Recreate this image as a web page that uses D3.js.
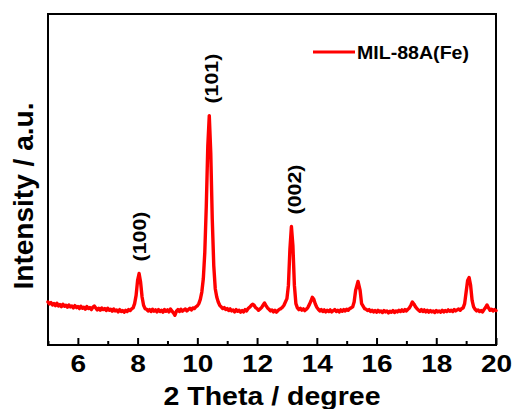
<!DOCTYPE html>
<html>
<head>
<meta charset="utf-8">
<script src="https://cdn.jsdelivr.net/npm/d3@7"></script>
<style>
  html, body { margin: 0; padding: 0; background: #fff; }
  svg { display: block; }
  text { font-family: "Liberation Sans", Arial, sans-serif; font-weight: bold; fill: #000; }
</style>
</head>
<body>
<svg id="chart" width="512" height="409"></svg>
<script>
// ---- data, one line per region, same order in both arrays ----
const twoTheta = [
  5.0,5.05,5.1,5.15,5.2,5.25,5.3,5.35,5.4,5.45,5.5,5.55,5.6,5.65,5.7,5.75,5.8,5.85,5.9,5.95,
  6.0,6.05,6.1,6.15,6.2,6.25,6.3,6.35,6.4,6.45,6.5,6.55,6.6,6.65,6.7,6.75,6.8,6.85,6.9,6.95,
  7.0,7.05,7.1,7.15,7.2,7.25,7.3,7.35,7.4,7.45,7.5,7.55,7.6,7.65,7.7,7.75,7.8,
  7.85,7.9,7.95,8.0,8.05,8.1,8.15,8.2,8.25,
  8.3,8.35,8.4,8.45,8.5,8.55,8.6,8.65,8.7,8.75,8.8,8.85,8.9,8.95,9.0,9.05,9.1,9.15,9.2,9.25,
  9.3,9.35,9.4,9.45,9.5,9.55,9.6,9.65,9.7,9.75,9.8,9.85,9.9,9.95,
  10.0,10.05,10.1,10.15,10.2,10.25,10.3,10.35,10.4,10.45,10.5,10.55,10.6,10.65,10.7,10.75,
  10.8,10.85,10.9,10.95,11.0,11.05,11.1,11.15,11.2,11.25,11.3,11.35,11.4,11.45,11.5,11.55,11.6,11.65,11.7,11.75,
  11.8,11.85,11.9,11.95,12.0,12.05,12.1,12.15,12.2,12.25,12.3,12.35,12.4,12.45,12.5,12.55,12.6,12.65,12.7,12.75,12.8,12.85,
  12.9,13.0,13.05,13.1,13.15,13.2,13.25,13.3,13.35,
  13.4,13.45,13.5,13.55,13.6,13.65,13.7,13.75,13.8,13.85,13.9,13.95,14.0,14.05,14.1,14.15,14.2,14.25,14.3,14.35,
  14.4,14.45,14.5,14.55,14.6,14.65,14.7,14.75,14.8,14.85,14.9,14.95,15.0,15.05,15.1,15.15,
  15.2,15.25,15.3,15.38,15.45,15.5,15.6,
  15.65,15.7,15.75,15.8,15.85,15.9,15.95,16.0,16.05,16.1,16.15,16.2,16.25,16.3,16.35,16.4,16.45,16.5,16.55,16.6,
  16.65,16.7,16.75,16.8,16.85,16.9,16.95,17.0,17.05,17.1,17.15,17.2,17.25,17.3,17.35,17.4,17.45,17.5,17.55,17.6,
  17.65,17.7,17.75,17.8,17.85,17.9,17.95,18.0,18.05,18.1,18.15,18.2,18.25,18.3,18.35,18.4,18.45,18.5,18.55,18.6,
  18.65,18.7,18.75,18.8,18.85,
  18.9,18.95,19.0,19.05,19.1,19.15,19.2,19.25,
  19.3,19.35,19.4,19.45,19.5,19.55,19.6,19.65,19.7,19.75,19.8,19.85,19.9,19.95,20.0
];
const intensity = [
  130,124,128,121,125,119,126,118,122,116,123,117,120,114,121,115,118,112,119,113,
  116,110,117,111,114,108,116,110,113,107,114,118,112,106,111,105,112,107,110,104,
  111,105,108,102,109,103,106,100,107,101,104,99,105,101,107,104,109,
  112,125,150,195,216,190,145,120,110,
  108,103,107,101,108,102,106,100,107,101,105,99,107,102,106,100,109,103,97,90,
  102,107,101,108,102,106,109,103,107,111,106,112,110,115,
  118,125,138,160,200,280,420,600,693,580,380,240,170,145,130,120,
  115,110,113,107,110,104,109,103,106,100,107,102,105,99,104,100,107,103,110,114,
  119,123,120,113,110,105,109,113,120,127,119,112,108,103,106,100,105,99,104,108,110,114,
  120,140,180,290,358,300,180,125,112,
  107,111,105,109,104,108,113,122,132,144,138,124,114,108,103,107,101,106,100,105,
  101,106,100,104,107,101,105,100,106,102,107,103,108,105,110,112,
  115,130,165,192,165,125,110,
  108,104,107,101,105,100,104,99,105,100,103,98,104,100,103,97,102,99,104,98,
  103,100,105,101,106,102,107,103,108,112,120,130,124,116,110,106,102,107,101,106,
  100,105,99,104,100,103,98,104,100,103,99,105,100,104,101,106,102,105,101,107,
  103,106,109,105,110,
  112,125,160,195,204,180,135,115,
  108,103,106,101,104,100,107,113,121,112,105,108,103,107,104
];
const majorTicks = [6, 8, 10, 12, 14, 16, 18, 20];
const minorTicks = [5, 7, 9, 11, 13, 15, 17, 19];
const peakLabels = ["(100)", "(101)", "(002)"];
const peakPositions = [8.05, 10.45, 13.25];
const peakHeights = [216, 693, 358];
const seriesName = "MIL-88A(Fe)";

// ---- layout ----
const svg = d3.select("#chart");
const L = 48, R = 496, T = 14, B = 345;
const x = d3.scaleLinear().domain([5, 20]).range([L, R]);
const y = d3.scaleLinear().domain([0, 1000]).range([B, T]);
const red = "#ff0000";

// minor ticks
svg.append("g")
  .attr("transform", `translate(0,${B})`)
  .call(d3.axisBottom(x).tickValues(minorTicks).tickSize(-4).tickFormat(""))
  .call(g => g.select(".domain").remove())
  .call(g => g.selectAll("line").attr("stroke", "#000").attr("stroke-width", 2));

// major ticks + labels
const xAxis = svg.append("g")
  .attr("transform", `translate(0,${B})`)
  .call(d3.axisBottom(x).tickValues(majorTicks).tickSize(-7).tickFormat(d3.format("d")))
  .call(g => g.select(".domain").remove());
xAxis.selectAll("line").attr("stroke", "#000").attr("stroke-width", 2);
xAxis.selectAll("text")
  .attr("y", 27).attr("dy", null)
  .attr("font-size", 23)
  .attr("transform", "scale(1.22,1)")
  .style("font-family", "'Liberation Sans', Arial, sans-serif")
  .style("font-weight", "bold")
  .attr("fill", "#000");

// frame
svg.append("rect")
  .attr("x", L).attr("y", T).attr("width", R - L).attr("height", B - T)
  .attr("fill", "none").attr("stroke", "#000").attr("stroke-width", 2);

// curve
const pts = twoTheta.map((t, i) => [t, intensity[i]]);
svg.append("path")
  .datum(pts)
  .attr("fill", "none")
  .attr("stroke", red)
  .attr("stroke-width", 3.4)
  .attr("stroke-linejoin", "round")
  .attr("stroke-linecap", "round")
  .attr("d", d3.line().x(d => x(d[0])).y(d => y(d[1])));

// peak labels (rotated)
peakLabels.forEach((lab, i) => {
  const cx = x(peakPositions[i]) + 7;
  const cy = y(peakHeights[i]) - 37;
  svg.append("text")
    .attr("transform", `translate(${cx},${cy}) rotate(-90)`)
    .attr("text-anchor", "middle")
    .attr("font-size", 19)
    .attr("textLength", 50)
    .attr("lengthAdjust", "spacingAndGlyphs")
    .text(lab);
});

// legend
svg.append("line")
  .attr("x1", 313).attr("x2", 355).attr("y1", 52).attr("y2", 52)
  .attr("stroke", red).attr("stroke-width", 3);
svg.append("text")
  .attr("x", 357).attr("y", 59)
  .attr("font-size", 18)
  .attr("textLength", 112)
  .attr("lengthAdjust", "spacingAndGlyphs")
  .text(seriesName);

// axis titles
svg.append("text")
  .attr("x", (L + R) / 2).attr("y", 405)
  .attr("text-anchor", "middle")
  .attr("font-size", 25)
  .attr("textLength", 217)
  .attr("lengthAdjust", "spacingAndGlyphs")
  .text("2 Theta / degree");
svg.append("text")
  .attr("transform", `translate(33,196) rotate(-90)`)
  .attr("text-anchor", "middle")
  .attr("font-size", 27)
  .attr("textLength", 187)
  .attr("lengthAdjust", "spacingAndGlyphs")
  .text("Intensity / a.u.");
</script>
</body>
</html>
